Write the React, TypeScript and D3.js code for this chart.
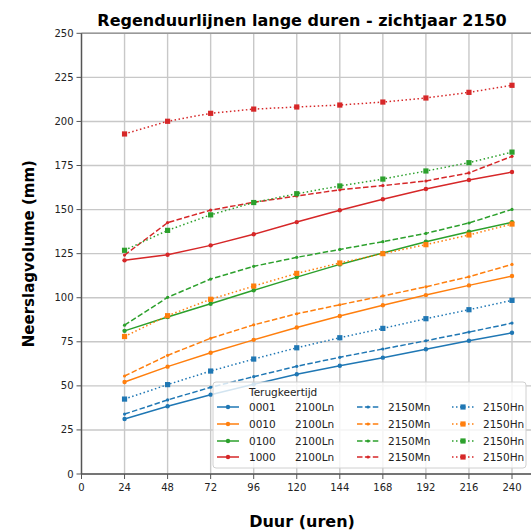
import React from "react";
import * as d3 from "d3";

// Duration (hours) on the x axis
const durations = [24, 48, 72, 96, 120, 144, 168, 192, 216, 240];
const xTicks = [0, 24, 48, 72, 96, 120, 144, 168, 192, 216, 240];
const yTicks = [0, 25, 50, 75, 100, 125, 150, 175, 200, 225, 250];

// Return periods and their colours
const returnPeriods = ["0001", "0010", "0100", "1000"];
const periodColors = ["#1f77b4", "#ff7f0e", "#2ca02c", "#d62728"];

// Precipitation volume (mm) per return period and scenario
const ln0001 = [31.2, 38.4, 45.0, 50.9, 56.6, 61.4, 66.0, 70.8, 75.6, 80.1];
const mn0001 = [34.0, 42.0, 49.2, 55.2, 61.1, 66.2, 70.9, 75.6, 80.5, 85.6];
const hn0001 = [42.5, 50.7, 58.4, 65.2, 71.6, 77.3, 82.6, 88.1, 93.2, 98.5];

const ln0010 = [52.2, 60.9, 68.8, 76.1, 83.1, 89.6, 95.7, 101.5, 107.0, 112.3];
const mn0010 = [55.6, 67.3, 77.0, 84.6, 90.9, 96.0, 101.0, 106.2, 111.9, 118.9];
const hn0010 = [78.0, 89.8, 99.1, 106.6, 113.8, 119.7, 125.0, 130.1, 135.6, 141.8];

const ln0100 = [81.2, 89.1, 96.6, 104.2, 111.7, 118.9, 125.4, 131.8, 137.4, 142.8];
const mn0100 = [84.4, 100.2, 110.6, 117.8, 122.9, 127.4, 131.8, 136.5, 142.4, 150.1];
const hn0100 = [126.9, 138.2, 147.0, 154.0, 159.0, 163.4, 167.3, 171.9, 176.6, 182.6];

const ln1000 = [121.2, 124.4, 129.7, 136.0, 142.9, 149.6, 155.9, 161.7, 166.8, 171.3];
const mn1000 = [124.2, 142.6, 149.7, 154.1, 157.7, 161.2, 163.6, 166.2, 170.8, 180.2];
const hn1000 = [192.9, 200.1, 204.6, 207.0, 208.2, 209.3, 211.0, 213.3, 216.5, 220.5];

const scenarios = ["2100Ln", "2150Mn", "2150Hn"];
const scenarioValues = [
  [ln0001, ln0010, ln0100, ln1000],
  [mn0001, mn0010, mn0100, mn1000],
  [hn0001, hn0010, hn0100, hn1000],
];

const W = 531;
const H = 532;
const FONT = "'DejaVu Sans', Verdana, sans-serif";

const dashFor = (s: number) => (s === 0 ? undefined : s === 1 ? "5.5,2.4" : "1.5,2.5");

function Marker({ s, cx, cy, color }: { s: number; cx: number; cy: number; color: string }) {
  if (s === 2) {
    return <rect x={cx - 2.6} y={cy - 2.6} width={5.2} height={5.2} fill={color} />;
  }
  return <circle cx={cx} cy={cy} r={s === 0 ? 2.2 : 1.6} fill={color} />;
}

export default function App() {
  const x = d3.scaleLinear().domain([0, 240]).range([81.5, 512]);
  const y = d3.scaleLinear().domain([0, 250]).range([474, 33.3]);
  const left = x(0);
  const right = W;
  const top = y(250);
  const bottom = y(0);

  const line = d3
    .line<number>()
    .x((_, i) => x(durations[i]))
    .y((d) => y(d));

  // Legend layout
  const lg = { x: 213, y: 382, w: 313, h: 86 };
  const rowY = [407, 424, 441, 457];
  const colHandle = [217, 357, 452];
  const handleW = 22;

  return (
    <svg
      width={W}
      height={H}
      style={{ position: "absolute", left: 0, top: 0, background: "#fff" }}
      fontFamily={FONT}
    >
      <defs>
        <clipPath id="plotArea">
          <rect x={left} y={top} width={right - left} height={bottom - top} />
        </clipPath>
      </defs>

      {/* grid */}
      <g stroke="#c8c8c8" strokeWidth={1.4}>
        {xTicks.map((t) => (
          <line key={"gx" + t} x1={x(t)} x2={x(t)} y1={top} y2={bottom} />
        ))}
        {yTicks.map((t) => (
          <line key={"gy" + t} x1={left} x2={right} y1={y(t)} y2={y(t)} />
        ))}
      </g>

      {/* series */}
      <g clipPath="url(#plotArea)">
        {scenarioValues.map((group, s) =>
          group.map((vals, p) => (
            <g key={`s${s}-${p}`}>
              <path
                d={line(vals) || ""}
                fill="none"
                stroke={periodColors[p]}
                strokeWidth={1.5}
                strokeDasharray={dashFor(s)}
              />
              {vals.map((v, i) => (
                <Marker key={i} s={s} cx={x(durations[i])} cy={y(v)} color={periodColors[p]} />
              ))}
            </g>
          ))
        )}
      </g>

      {/* spines */}
      <line x1={left} x2={right} y1={top} y2={top} stroke="#999" strokeWidth={1.4} />
      <line x1={left} x2={left} y1={top} y2={bottom} stroke="#555" strokeWidth={1.4} />
      <line x1={left} x2={right} y1={bottom} y2={bottom} stroke="#555" strokeWidth={1.4} />

      {/* y ticks */}
      {yTicks.map((t) => (
        <g key={"yt" + t}>
          <line x1={left - 5} x2={left} y1={y(t)} y2={y(t)} stroke="#555" strokeWidth={1} />
          <text x={left - 8} y={y(t)} dy="0.35em" textAnchor="end" fontSize={10} fill="#222">
            {t}
          </text>
        </g>
      ))}

      {/* x ticks */}
      {xTicks.map((t) => (
        <g key={"xt" + t}>
          <line x1={x(t)} x2={x(t)} y1={bottom} y2={bottom + 5} stroke="#555" strokeWidth={1} />
          <text x={x(t)} y={bottom + 17} textAnchor="middle" fontSize={10} fill="#222">
            {t}
          </text>
        </g>
      ))}

      {/* titles */}
      <text x={302} y={26} textAnchor="middle" fontSize={16} fontWeight="bold" fill="#000">
        Regenduurlijnen lange duren - zichtjaar 2150
      </text>
      <text x={302} y={527} textAnchor="middle" fontSize={16} fontWeight="bold" fill="#000">
        Duur (uren)
      </text>
      <text
        transform={`translate(34, ${(top + bottom) / 2}) rotate(-90)`}
        textAnchor="middle"
        fontSize={15}
        fontWeight="bold"
        fill="#000"
      >
        Neerslagvolume (mm)
      </text>

      {/* legend */}
      <g>
        <rect
          x={lg.x}
          y={lg.y}
          width={lg.w}
          height={lg.h}
          rx={3}
          fill="#fff"
          fillOpacity={0.8}
          stroke="#d0d0d0"
          strokeWidth={1}
        />
        <text x={249} y={396} fontSize={10.5} fill="#222">
          Terugkeertijd
        </text>
        {returnPeriods.map((rp, p) => (
          <g key={"lg" + rp}>
            {scenarios.map((sc, s) => {
              const hx = colHandle[s];
              const cy = rowY[p];
              return (
                <g key={sc}>
                  <line
                    x1={hx}
                    x2={hx + handleW}
                    y1={cy}
                    y2={cy}
                    stroke={periodColors[p]}
                    strokeWidth={1.5}
                    strokeDasharray={dashFor(s)}
                  />
                  <Marker s={s} cx={hx + handleW / 2} cy={cy} color={periodColors[p]} />
                  <text x={s === 0 ? 295 : hx + 31} y={cy} dy="0.35em" fontSize={10.5} fill="#222">
                    {sc}
                  </text>
                </g>
              );
            })}
            <text x={249} y={rowY[p]} dy="0.35em" fontSize={10.5} fill="#222">
              {rp}
            </text>
          </g>
        ))}
      </g>
    </svg>
  );
}
